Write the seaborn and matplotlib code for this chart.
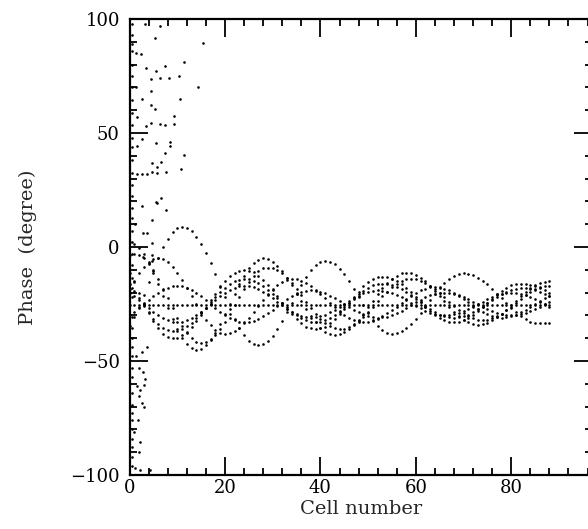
import pandas as pd
import matplotlib
matplotlib.use("Agg")
import matplotlib.pyplot as plt
import seaborn as sns
from matplotlib.ticker import MultipleLocator

# cell index of every dotted trajectory
cells = list(range(89))

# phase of the synchronous particle (flat dotted line)
sync_phase = -25.5

curve_a = [-34.7, -30.8, -26.1, -21.0, -15.5, -10.0, -4.9, -0.2, 3.7, 6.6, 8.4, 9.0, 8.5, 7.0, 4.6,
           1.4, -2.5, -7.0, -11.9, -17.0, -22.1, -27.0, -31.5, -35.4, -38.6, -41.0, -42.5, -43.0, -42.5, -41.2,
           -39.0, -36.0, -32.5, -28.6, -24.5, -20.4, -16.5, -13.0, -10.0, -7.8, -6.5, -6.0, -6.4, -7.6, -9.5,
           -12.0, -15.1, -18.4, -22.0, -25.6, -28.9, -32.0, -34.5, -36.4, -37.6, -38.0, -37.7, -36.9, -35.5, -33.6,
           -31.4, -28.8, -26.1, -23.4, -20.7, -18.1, -15.9, -14.0, -12.6, -11.8, -11.5, -11.7, -12.3, -13.4, -14.7,
           -16.4, -18.3, -20.4, -22.5, -24.6, -26.7, -28.6, -30.3, -31.6, -32.7, -33.3, -33.5, -33.4, -33.2]
curve_b = [2.0, 1.4, -0.3, -3.1, -6.9, -11.3, -16.3, -21.5, -26.7, -31.7, -36.1, -39.9, -42.7, -44.4, -45.0,
           -44.5, -43.0, -40.6, -37.5, -33.7, -29.5, -25.0, -20.5, -16.3, -12.5, -9.4, -7.0, -5.5, -5.0, -5.4,
           -6.4, -8.2, -10.6, -13.4, -16.6, -20.0, -23.6, -27.0, -30.2, -33.0, -35.4, -37.2, -38.2, -38.6, -38.3,
           -37.4, -36.0, -34.1, -31.8, -29.2, -26.4, -23.5, -20.7, -18.1, -15.8, -13.9, -12.5, -11.6, -11.3, -11.5,
           -12.3, -13.5, -15.1, -17.0, -19.1, -21.5, -23.8, -26.2, -28.3, -30.2, -31.8, -33.0, -33.8, -34.0, -33.8,
           -33.2, -32.2, -30.9, -29.3, -27.4, -25.5, -23.5, -21.6, -19.8, -18.1, -16.8, -15.8, -15.2, -15.0]
curve_c = [-11.3, -15.5, -20.0, -24.5, -28.7, -32.5, -35.6, -38.0, -39.5, -40.0, -39.7, -38.7, -37.1, -35.0, -32.5,
           -29.6, -26.6, -23.4, -20.4, -17.5, -15.0, -12.9, -11.3, -10.3, -10.0, -10.3, -11.1, -12.5, -14.3, -16.5,
           -19.0, -21.6, -24.4, -27.0, -29.5, -31.7, -33.5, -34.9, -35.7, -36.0, -35.7, -34.9, -33.5, -31.7, -29.5,
           -27.1, -24.5, -21.9, -19.5, -17.3, -15.5, -14.1, -13.3, -13.0, -13.2, -13.9, -14.9, -16.3, -18.0, -19.9,
           -21.9, -24.1, -26.1, -28.0, -29.7, -31.1, -32.1, -32.8, -33.0, -32.8, -32.2, -31.1, -29.8, -28.2, -26.4,
           -24.5, -22.6, -20.8, -19.2, -17.9, -16.8, -16.2, -16.0, -16.1, -16.5, -17.1, -17.9, -18.9, -20.0]
curve_d = [-18.6, -14.9, -11.6, -8.8, -6.7, -5.4, -5.0, -5.4, -6.6, -8.6, -11.2, -14.3, -17.8, -21.5, -25.2,
           -28.7, -31.8, -34.4, -36.4, -37.6, -38.0, -37.7, -36.8, -35.4, -33.5, -31.2, -28.7, -26.0, -23.3, -20.8,
           -18.5, -16.6, -15.2, -14.3, -14.0, -14.2, -14.8, -15.8, -17.1, -18.8, -20.6, -22.5, -24.5, -26.4, -28.3,
           -29.9, -31.2, -32.2, -32.8, -33.0, -32.8, -32.3, -31.5, -30.4, -29.1, -27.6, -26.1, -24.4, -22.9, -21.4,
           -20.1, -19.0, -18.2, -17.7, -17.5, -17.7, -18.2, -19.0, -20.0, -21.3, -22.7, -24.3, -25.8, -27.2, -28.5,
           -29.5, -30.3, -30.8, -31.0, -30.9, -30.4, -29.7, -28.7, -27.6, -26.3, -25.0, -23.7, -22.4, -21.3]
curve_e = [-30.0, -28.5, -26.8, -25.0, -23.2, -21.5, -20.0, -18.7, -17.8, -17.2, -17.0, -17.2, -17.8, -18.7, -20.0,
           -21.5, -23.2, -25.0, -26.8, -28.5, -30.0, -31.3, -32.2, -32.8, -33.0, -32.8, -32.3, -31.5, -30.4, -29.0,
           -27.6, -26.0, -24.4, -23.0, -21.6, -20.5, -19.7, -19.2, -19.0, -19.2, -19.6, -20.3, -21.3, -22.4, -23.7,
           -25.0, -26.3, -27.6, -28.7, -29.7, -30.4, -30.9, -31.0, -30.9, -30.5, -29.8, -28.9, -27.9, -26.7, -25.5,
           -24.3, -23.1, -22.1, -21.2, -20.5, -20.1, -20.0, -20.1, -20.5, -21.1, -21.9, -22.8, -23.9, -25.0, -26.1,
           -27.2, -28.1, -28.9, -29.5, -29.9, -30.0, -29.9, -29.5, -28.9, -28.1, -27.2, -26.1, -25.0, -23.9]
curve_f = [-20.0, -21.5, -23.2, -25.0, -26.8, -28.5, -30.0, -31.3, -32.2, -32.8, -33.0, -32.8, -32.2, -31.3, -30.0,
           -28.5, -26.8, -25.0, -23.2, -21.5, -20.0, -18.7, -17.8, -17.2, -17.0, -17.2, -17.7, -18.5, -19.6, -21.0,
           -22.4, -24.0, -25.6, -27.0, -28.4, -29.5, -30.3, -30.8, -31.0, -30.8, -30.4, -29.7, -28.7, -27.6, -26.3,
           -25.0, -23.7, -22.4, -21.3, -20.3, -19.6, -19.1, -19.0, -19.1, -19.5, -20.2, -21.1, -22.1, -23.3, -24.5,
           -25.7, -26.9, -27.9, -28.8, -29.5, -29.9, -30.0, -29.9, -29.5, -28.9, -28.1, -27.2, -26.1, -25.0, -23.9,
           -22.8, -21.9, -21.1, -20.5, -20.1, -20.0, -20.1, -20.5, -21.1, -21.9, -22.8, -23.9, -25.0, -26.1]
curve_g = [-3.5, -3.0, -3.5, -4.9, -7.3, -10.4, -14.0, -18.2, -22.5, -26.8, -31.0, -34.6, -37.7, -40.1, -41.5,
           -42.0, -41.6, -40.4, -38.4, -35.8, -32.7, -29.2, -25.5, -21.8, -18.3, -15.2, -12.6, -10.6, -9.4, -9.0,
           -9.3, -10.2, -11.6, -13.5, -15.8, -18.3, -21.1, -23.9, -26.7, -29.3, -31.5, -33.4, -34.8, -35.7, -36.0,
           -35.8, -35.1, -33.9, -32.4, -30.5, -28.4, -26.2, -23.8, -21.6, -19.5, -17.6, -16.1, -14.9, -14.2, -14.0,
           -14.2, -14.8, -15.7, -17.0, -18.5, -20.2, -22.1, -23.9, -25.8, -27.5, -29.0, -30.3, -31.2, -31.8, -32.0,
           -31.8, -31.3, -30.4, -29.2, -27.8, -26.2, -24.5, -22.8, -21.2, -19.8, -18.6, -17.7, -17.2, -17.0]
curve_h = [-16.2, -19.3, -22.5, -25.7, -28.8, -31.5, -33.8, -35.6, -36.6, -37.0, -36.7, -36.0, -34.8, -33.2, -31.3,
           -29.1, -26.7, -24.3, -21.9, -19.8, -17.8, -16.2, -15.0, -14.3, -14.0, -14.2, -14.8, -15.8, -17.1, -18.8,
           -20.6, -22.5, -24.5, -26.4, -28.3, -29.9, -31.2, -32.2, -32.8, -33.0, -32.8, -32.2, -31.1, -29.8, -28.2,
           -26.4, -24.5, -22.6, -20.8, -19.2, -17.9, -16.8, -16.2, -16.0, -16.2, -16.6, -17.4, -18.5, -19.8, -21.2,
           -22.7, -24.3, -25.8, -27.3, -28.5, -29.6, -30.4, -30.8, -31.0, -30.8, -30.4, -29.6, -28.5, -27.3, -25.9,
           -24.5, -23.1, -21.7, -20.6, -19.6, -18.8, -18.3, -18.0, -18.1, -18.4, -18.9, -19.6, -20.4, -21.3]

# initial phases along the first cell
edge_phase = [98, 93, 89, 86, 80, 75, 70, 64.5, 59, 53.4, 48, 43.7, 38, 32.3, 27, 22.4, 17, 12.7, 7, 2.3,
              -3, -8, -13.6, -18, -22, -30.5, -35.5, -40, -44, -48, -53, -57, -64, -69.3, -73, -76, -80, -84,
              -87.6, -92, -96]
edge_cell = 0.4

# particles that are not captured (upper left and lower left)
lost_cell = [3.2, 6.4, 5.3, 15.3, 1.3, 2.3, 11.3, 7.4, 3.4, 5.5, 6.4, 8.3, 10.4, 4.4, 14.3, 1.3, 4.4, 2.5,
             10.6, 4.5, 5.4, 1.5, 9.4, 3.4, 4.5, 6.4, 7.4, 9.4, 2.5, 5.5, 8.5, 8.5, 1.5, 11.5, 7.4, 4.6,
             5.7, 6.6, 1.5, 2.5, 3.6, 4.6, 5.7, 7.6, 10.8, 5.5, 6.6, 4.6, 5.7, 7.6, 2.5, 1.1, 2.9, 3.6,
             4.6, 2.9, 4.8, 4.8,
             2.0, 2.9, 1.5, 2.2, 2.0, 2.5, 1.7, 2.2, 1.1, 2.2, 4.3, 3.2, 3.0, 3.0, 1.3, 2.6, 3.6, 1.0, 2.0]
lost_phase = [98, 97, 91.7, 89.6, 85.2, 84.5, 81, 79.5, 78.6, 77.2, 74.3, 74, 75, 73.5, 70.3, 70.3, 68.6, 64.8,
              64.8, 62.3, 60.4, 56.9, 57.6, 53.1, 54.5, 53.9, 53.6, 53.9, 47.4, 45.7, 46.2, 44.3, 44.3, 40.2, 41.1, 36.7,
              35, 37.1, 31.9, 31.9, 32, 33, 32.3, 32.8, 34.2, 19.6, 21.4, 11.8, 19.4, 16.2, 18, 10.1, 6, 6,
              1.6, -4.3, -3.5, -6.1,
              -53, -54.6, -61, -62.7, -65.4, -68.3, -76, -85.4, -97, -97.8, -98, -58, -60.5, -70, -48, -46, -44, -81, -90]

curves = [curve_a, curve_b, curve_c, curve_d, curve_e, curve_f, curve_g, curve_h]
frames = [pd.DataFrame({"cell": cells, "phase": c}) for c in curves]
frames.append(pd.DataFrame({"cell": cells, "phase": [sync_phase] * len(cells)}))
frames.append(pd.DataFrame({"cell": [edge_cell] * len(edge_phase), "phase": edge_phase}))
frames.append(pd.DataFrame({"cell": lost_cell, "phase": lost_phase}))
df = pd.concat(frames, ignore_index=True)

sns.set_theme(style="ticks")
plt.rcParams["font.family"] = ["DejaVu Serif"]

fig = plt.figure(figsize=(5.88, 5.29), dpi=100)
ax = fig.add_axes([0.2204, 0.102, 0.787, 0.862])
sns.scatterplot(data=df, x="cell", y="phase", color="black", s=3.5, linewidth=0, ax=ax)

ax.set_xlim(0, 97)
ax.set_ylim(-100, 100)
ax.xaxis.set_major_locator(MultipleLocator(20))
ax.xaxis.set_minor_locator(MultipleLocator(4))
ax.yaxis.set_major_locator(MultipleLocator(50))
ax.yaxis.set_minor_locator(MultipleLocator(10))
ax.tick_params(which="both", direction="in", top=True, right=True, width=1.3, colors="black",
               labelsize=13)
ax.tick_params(axis="y", pad=7)
ax.tick_params(axis="x", pad=3)
ax.tick_params(which="major", length=13)
ax.tick_params(which="minor", length=5)
for s in ax.spines.values():
    s.set_linewidth(1.6)
    s.set_color("black")

ax.set_xlabel("Cell number", fontsize=14, labelpad=2)
ax.set_ylabel("Phase  (degree)", fontsize=14, labelpad=24)

fig.savefig("out.png", dpi=100)
